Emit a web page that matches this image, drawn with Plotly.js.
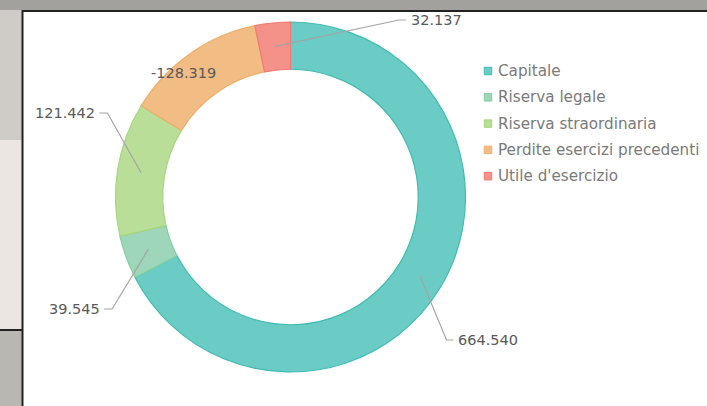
<!DOCTYPE html>
<html>
<head>
<meta charset="utf-8">
<script src="https://cdn.plot.ly/plotly-3.0.1.min.js"></script>
<style>html,body{margin:0;padding:0;background:#fff;}#chart{width:707px;height:406px;}</style>
</head>
<body>
<div id="chart"></div>
<script>
// ---- data ----
const categories = ["Capitale", "Riserva legale", "Riserva straordinaria", "Perdite esercizi precedenti", "Utile d'esercizio"];
const values = [664.540, 39.545, 121.442, -128.319, 32.137];
const valueLabels = ["664.540", "39.545", "121.442", "-128.319", "32.137"];

// ---- styles ----
const colors = ["#6accc5", "#9dd6b8", "#b9de97", "#f1bd84", "#f4928a"];
const edgeColors = ["#3fbcb2", "#86cda2", "#a6d77f", "#eeae6a", "#ef7b72"];
const FONT = '"DejaVu Sans", Verdana, sans-serif';
const W = 707, H = 406;
const cx = 290.5, cy = 197, R = 175, hole = 0.73;
// label text centres (px)
const labelPos = [[488, 340], [74, 309], [65, 113], [183, 73], [436, 20]];
const labelSide = [1, -1, -1, 0, 1]; // elbow direction
// legend placement (px)
const legX = 488, legY0 = 71, legStep = 26.3, legBox = 7.5;

const mags = values.map(v => Math.abs(v));
const total = mags.reduce((a, b) => a + b, 0);

const toPX = x => x / W, toPY = y => 1 - y / H;

const annotations = [];
const shapes = [];
// background decoration
shapes.push({type:'rect', xref:'paper', yref:'paper', x0:0, x1:toPX(23), y0:0, y1:1, fillcolor:'#ebe6e2', line:{width:0}, layer:'below'});
shapes.push({type:'rect', xref:'paper', yref:'paper', x0:0, x1:toPX(23), y0:toPY(140), y1:1, fillcolor:'#cfccc8', line:{width:0}, layer:'below'});
shapes.push({type:'rect', xref:'paper', yref:'paper', x0:0, x1:toPX(23), y0:0, y1:toPY(330), fillcolor:'#b9b7b1', line:{width:0}, layer:'below'});
shapes.push({type:'rect', xref:'paper', yref:'paper', x0:0, x1:1, y0:toPY(10), y1:1, fillcolor:'#a3a19e', line:{width:0}, layer:'below'});
shapes.push({type:'line', xref:'paper', yref:'paper', x0:toPX(22.5), x1:toPX(22.5), y0:0, y1:toPY(10), line:{color:'#222', width:2}});
shapes.push({type:'line', xref:'paper', yref:'paper', x0:toPX(22), x1:1, y0:toPY(11), y1:toPY(11), line:{color:'#222', width:2}});
shapes.push({type:'line', xref:'paper', yref:'paper', x0:0, x1:toPX(22), y0:toPY(330), y1:toPY(330), line:{color:'#222', width:2}});

// data labels with leader lines
let cum = 0;
mags.forEach((m, i) => {
  const mid = (cum + m / 2) / total * 2 * Math.PI;
  cum += m;
  const rMid = R * (1 + hole) / 2;
  const ax = cx + rMid * Math.sin(mid);
  const ay = cy - rMid * Math.cos(mid);
  const [tx, ty] = labelPos[i];
  const textW = valueLabels[i].length * 8.7;
  annotations.push({xref:'paper', yref:'paper', x:toPX(tx), y:toPY(ty), text:valueLabels[i], showarrow:false,
    font:{family:FONT, size:14.5, color:'#595959'}, xanchor:'center', yanchor:'middle'});
  if (labelSide[i] !== 0) {
    const sx = labelSide[i] > 0 ? tx - textW / 2 - 4 : tx + textW / 2 + 4;
    const ex = sx + (labelSide[i] > 0 ? -7 : 8);
    shapes.push({type:'path', xref:'paper', yref:'paper', layer:'above',
      path:`M ${toPX(sx)} ${toPY(ty)} L ${toPX(ex)} ${toPY(ty)} L ${toPX(ax)} ${toPY(ay)}`,
      line:{color:'#a5a5a5', width:1.2}});
  }
});

// legend (built from categories and colours)
categories.forEach((c, i) => {
  const y = legY0 + i * legStep;
  shapes.push({type:'rect', xref:'paper', yref:'paper',
    x0:toPX(legX - legBox / 2), x1:toPX(legX + legBox / 2), y0:toPY(y + legBox / 2), y1:toPY(y - legBox / 2),
    fillcolor:colors[i], line:{color:edgeColors[i], width:1}});
  annotations.push({xref:'paper', yref:'paper', x:toPX(legX + 8), y:toPY(y), text:c, showarrow:false,
    xanchor:'left', yanchor:'middle', font:{family:FONT, size:15.2, color:'#7a7a7a'}});
});

const trace = {
  type:'pie',
  labels: categories,
  values: mags,
  hole: hole,
  sort:false,
  direction:'clockwise',
  rotation:0,
  textinfo:'none',
  hoverinfo:'label+value',
  marker:{colors: colors, line:{color: edgeColors, width:1.2}},
  domain:{x:[(cx - R) / W, (cx + R) / W], y:[(H - cy - R) / H, (H - cy + R) / H]}
};

const layout = {
  width: W, height: H,
  margin:{l:0, r:0, t:0, b:0},
  paper_bgcolor:'#ffffff',
  showlegend:false,
  annotations: annotations,
  shapes: shapes
};

Plotly.newPlot('chart', [trace], layout, {displayModeBar:false, staticPlot:true});
</script>
</body>
</html>
